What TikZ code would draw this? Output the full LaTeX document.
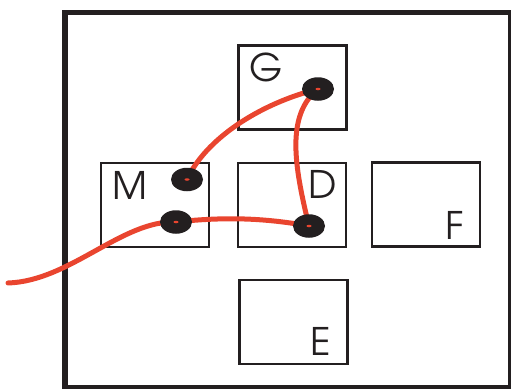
\documentclass[tikz,border=0pt]{standalone}
\usepackage{fontspec}
\setmainfont{texgyreadventor-regular.otf}
\usetikzlibrary{shapes.geometric}
\definecolor{ink}{RGB}{35,31,32}
\definecolor{wire}{RGB}{233,69,47}
\tikzset{
  room/.style={draw=ink, line width=2.6pt, rectangle, minimum width=108pt, minimum height=84pt, inner sep=0pt},
  tag/.style={inner sep=0pt, text=ink, font=\fontsize{38pt}{38pt}\selectfont},
  pin/.style={ellipse, fill=ink, minimum width=32pt, minimum height=23.5pt, inner sep=0pt},
  pinhole/.style={ellipse, fill=wire, minimum width=5pt, minimum height=2.5pt, inner sep=0pt},
  cable/.style={draw=wire, line width=5pt, line cap=round}
}
\begin{document}
\begin{tikzpicture}[x=1pt, y=-1pt]
  \useasboundingbox (0,0) rectangle (511,388);
  % outer wall
  \draw[ink, line width=5.5pt] (65,12.5) rectangle (510.5,387.5);
  % rooms
  \node[room] (G) at (292.5,87.5) {};
  \node[room] (M) at (155,205) {};
  \node[room] (D) at (292,205) {};
  \node[room] (F) at (426,204.5) {};
  \node[room] (E) at (293.5,322) {};
  % room letters
  \node[tag] (lG) at (266,67) {G};
  \node[tag] (lM) at (130,185) {M};
  \node[tag] (lD) at (323,184.5) {D};
  \node[tag] (lF) at (455,225) {F};
  \node[tag] (lE) at (321,341.5) {E};
  % pin positions and the cable's free end
  \coordinate (pg) at (318,89);
  \coordinate (pmu) at (187,179.5);
  \coordinate (pml) at (176,222);
  \coordinate (pd) at (309,226);
  \coordinate (start) at (8,283);
  % cables
  \path[cable] (pmu) .. controls (205,140) and (258,104) .. (pg);
  \path[cable] (pg) .. controls (286,115) and (294,165) .. (pd);
  \path[cable] (pml) .. controls (230,216) and (270,219) .. (pd);
  \path[cable] (start) .. controls (70,281) and (122,220) .. (pml);
  % pins
  \foreach \p in {pg,pmu,pml,pd}{
    \node[pin] (\p-pin) at (\p) {};
    \node[pinhole] (\p-hole) at (\p) {};
  }
\end{tikzpicture}
\end{document}
